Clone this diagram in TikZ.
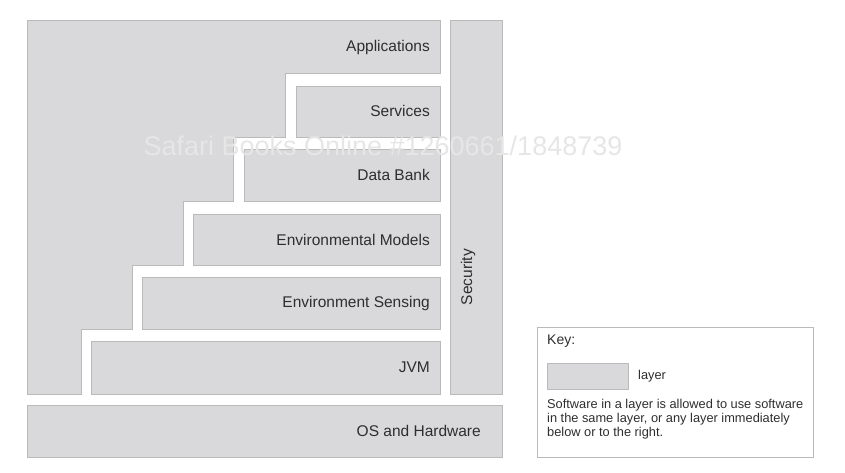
\documentclass[tikz,border=0pt]{standalone}
\usepackage{fontspec}
\setmainfont{Liberation Sans}
\definecolor{layerfill}{HTML}{D9D9DB}
\definecolor{layerline}{HTML}{BABABA}
\definecolor{labeltext}{HTML}{2E2E2E}
\definecolor{markgray}{HTML}{E6E6E6}

\begin{document}
\begin{tikzpicture}[x=1pt,y=-1pt,
    layer/.style={draw=layerline,fill=layerfill,line width=0.8pt},
    lbl/.style={anchor=east,inner sep=0pt,text=labeltext,font=\fontsize{15.5}{17}\selectfont},
    keytext/.style={anchor=west,inner sep=0pt,text=labeltext,font=\fontsize{12.8}{14}\selectfont}]
    \useasboundingbox (0,0) rectangle (845,472);
    % stepped applications layer
    \draw[layer] (27,20) -- (440,20) -- (440,73) -- (285,73) -- (285,137) -- (233,137) -- (233,201)
        -- (183,201) -- (183,265) -- (132,265) -- (132,329) -- (81,329) -- (81,394) -- (27,394) -- cycle;
    \node[lbl] (apps) at (430,47) {Applications};
    % layers underneath
    \draw[layer] (296,86) rectangle (440,137);
    \node[lbl] (serv) at (430,111) {Services};
    \draw[layer] (244,149) rectangle (440,201);
    \node[lbl] (data) at (430,175) {Data Bank};
    \draw[layer] (193,214) rectangle (440,265);
    \node[lbl] (envm) at (430,240) {Environmental Models};
    \draw[layer] (142,277) rectangle (440,329);
    \node[lbl] (envs) at (430,303) {Environment Sensing};
    \draw[layer] (91,341) rectangle (440,394);
    \node[lbl] (jvm) at (430,367) {JVM};
    \draw[layer] (450,20) rectangle (502,394);
    \node[lbl,anchor=center,rotate=90] (sec) at (468,277) {Security};
    \draw[layer] (27,405) rectangle (502,457);
    \node[lbl] (os) at (481,431) {OS and Hardware};
    % watermark
    \node[inner sep=0pt,text=markgray,font=\fontsize{27}{30}\selectfont] (mark) at (383,146) {Safari Books Online \#1260661/1848739};
    % key
    \draw[draw=layerline,line width=0.8pt] (537,327) rectangle (813,457);
    \node[keytext,font=\fontsize{14}{16}\selectfont] (key) at (547,341) {Key:};
    \draw[layer] (547,363) rectangle (628,389);
    \node[keytext] (keylayer) at (638,376) {layer};
    \node[keytext,anchor=north west,align=left] (keynote) at (547,399)
        {Software in a layer is allowed to use software\\in the same layer, or any layer immediately\\below or to the right.};
\end{tikzpicture}
\end{document}
